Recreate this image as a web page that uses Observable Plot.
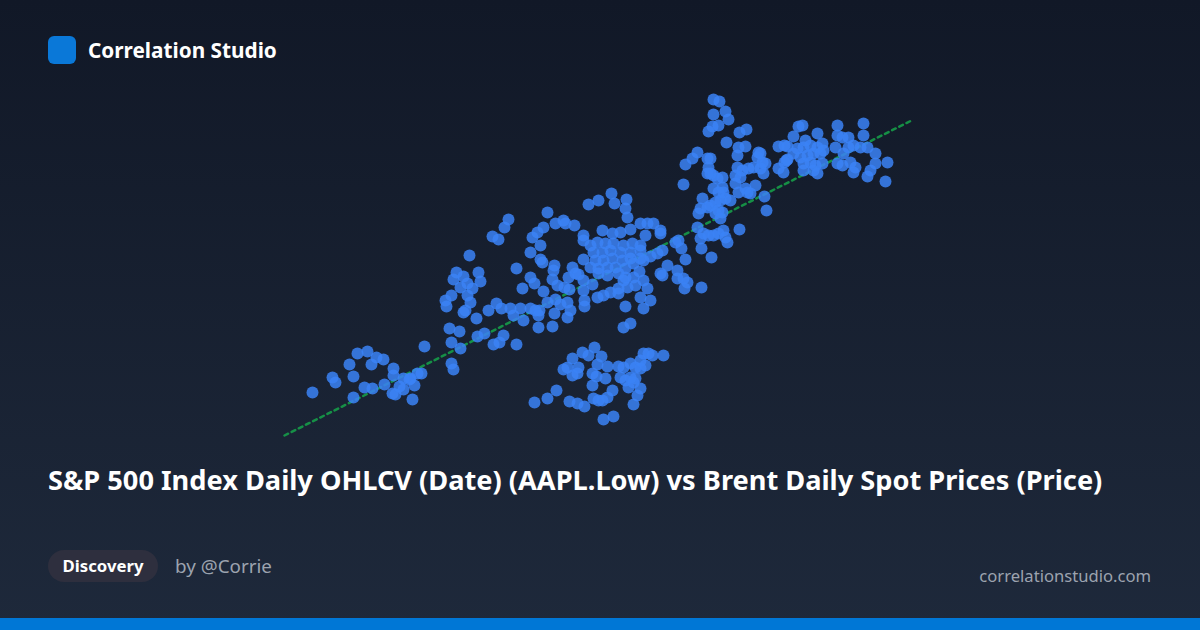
<!DOCTYPE html>
<html>
<head>
<meta charset="utf-8">
<script src="https://cdn.jsdelivr.net/npm/d3@7"></script>
<script src="https://cdn.jsdelivr.net/npm/@observablehq/plot@0.6"></script>
<style>
  html, body { margin: 0; padding: 0; }
  body { width: 1200px; height: 630px; overflow: hidden; font-family: "Noto Sans", "Open Sans", sans-serif; }
  #card { position: relative; width: 1200px; height: 630px; background: linear-gradient(180deg, #111827 0%, #1e293b 100%); overflow: hidden; }
  #logo { position: absolute; left: 48px; top: 36px; width: 28px; height: 28px; border-radius: 6px; background: #0a78d8; }
  #brand { position: absolute; left: 88px; top: 36px; line-height: 28px; font-size: 20px; font-weight: 700; color: #ffffff; white-space: nowrap; }
  #chart { position: absolute; left: 0; top: 80px; }
  #title { position: absolute; left: 48px; top: 462px; font-size: 27px; font-weight: 700; color: #ffffff; line-height: 36px; white-space: nowrap; }
  #pill { position: absolute; left: 48px; top: 550px; width: 110px; height: 32px; border-radius: 16px; background: #2e2f3e; text-align: center; }
  #pillText { color: #ffffff; font-size: 16px; font-weight: 700; line-height: 32px; white-space: nowrap; }
  #author { position: absolute; left: 175px; top: 550px; line-height: 32px; font-size: 18px; color: #9ca3af; white-space: nowrap; }
  #site { position: absolute; right: 49px; top: 560px; line-height: 32px; font-size: 16px; color: #9ca3af; white-space: nowrap; }
  #bar { position: absolute; left: 0; bottom: 0; width: 1200px; height: 12px; background: #0077d6; }
</style>
</head>
<body>
<div id="card">
  <div id="logo"></div>
  <div id="brand">Correlation Studio</div>
  <div id="chart"></div>
  <div id="title">S&amp;P 500 Index Daily OHLCV (Date) (AAPL.Low) vs Brent Daily Spot Prices (Price)</div>
  <div id="pill"><span id="pillText">Discovery</span></div>
  <div id="author">by @Corrie</div>
  <div id="site">correlationstudio.com</div>
  <div id="bar"></div>
</div>
<script>
// Values (x: AAPL.Low axis units, y: Brent price axis units, as plotted positions)
const lowerLeft = [
  [312,392],[332,377],[335,382],[349,364],[353,376],[353,397],[357,353],[367,351],[371,364],[376,357],
  [383,359],[364,387],[372,388],[384,384],[393,368],[393,375],[392,393],[395,394],[403,378],[403,389],
  [409,379],[414,385],[412,399],[417,373],[421,373],[424,346],[451,363],[453,369],[399,386],[410,378]
];
const middleLeft = [
  [449,328],[459,331],[451,342],[460,348],[469,255],[492,236],[498,239],[504,227],[508,219],[456,272],
  [453,279],[463,276],[460,287],[467,283],[472,288],[478,272],[480,281],[451,295],[445,300],[446,306],
  [467,295],[470,302],[465,310],[463,312],[476,318],[488,310],[496,303],[501,308],[510,308],[520,308],
  [513,315],[477,336],[484,333],[493,344],[499,342],[503,335],[516,344],[516,268],[522,288],[530,277],
  [534,283],[530,252],[540,245],[540,259],[532,237],[537,232],[543,227],[547,212],[555,223],[563,220],
  [565,223],[574,225],[583,235],[583,240],[588,204],[598,200],[611,193],[614,203],[626,199],[625,208],
  [627,217],[543,291],[530,308],[535,310],[539,310],[538,315],[538,327],[523,320],[547,302],[555,299],
  [560,304],[567,302],[570,310],[567,317],[554,313],[552,326],[554,265],[553,270],[572,267],[575,273],
  [578,274],[568,277],[552,279],[557,285],[564,287],[569,289],[583,290],[584,300],[584,306],[592,284],
  [542,262],[583,280]
];
const central = [
  [602,230],[612,233],[620,232],[630,229],[640,223],[647,223],[653,223],[660,230],[660,233],[645,235],
  [590,245],[597,242],[605,243],[613,243],[623,245],[632,243],[640,245],[593,252],[602,252],[610,250],
  [620,252],[630,252],[640,250],[595,260],[603,260],[612,258],[622,260],[630,258],[640,258],[590,267],
  [598,268],[607,267],[615,267],[625,268],[633,263],[643,260],[650,256],[657,253],[662,250],[598,273],
  [607,275],[618,273],[625,277],[633,277],[639,271],[583,259],[597,297],[603,295],[610,292],[618,288],
  [623,280],[618,293],[627,287],[635,285],[643,280],[647,288],[625,306],[630,323],[623,327],[640,297],
  [650,300],[643,308]
];
const centralRight = [
  [660,273],[667,265],[677,270],[678,240],[681,248],[685,259],[687,282],[684,288],[701,287],[677,278],
  [683,278],[675,242],[662,275],[697,227],[700,238],[703,233],[701,248],[711,257],[739,229],[683,184]
];
const upper = [
  [685,164],[692,158],[697,152],[707,158],[710,158],[708,167],[710,173],[713,175],[717,178],[722,177],
  [707,173],[713,188],[722,187],[718,192],[723,192],[702,198],[700,208],[698,213],[707,207],[710,205],
  [715,202],[720,200],[725,198],[730,200],[718,210],[722,212],[715,213],[720,218],[708,235],[713,235],
  [718,233],[723,230],[725,237],[727,242],[713,99],[719,101],[725,111],[728,119],[713,114],[708,131],
  [712,126],[718,125],[726,142],[739,132],[746,129],[738,147],[745,146],[737,155],[758,152],[757,157],
  [762,162],[765,163],[737,167],[742,170],[748,168],[753,167],[760,168],[763,173],[735,175],[740,177],
  [735,183],[738,192],[745,188],[747,192],[750,193],[755,185],[764,196],[766,210],[778,146],[784,145],
  [786,160],[784,162],[778,168],[783,172],[760,153]
];
const right = [
  [798,126],[802,125],[793,136],[787,146],[787,159],[797,148],[803,147],[810,145],[817,147],[822,143],
  [800,157],[807,155],[813,153],[820,153],[803,163],[810,162],[815,165],[822,163],[813,170],[803,170],
  [817,133],[823,150],[817,173],[837,125],[837,135],[842,137],[848,137],[835,147],[843,153],[837,163],
  [842,165],[850,162],[855,167],[853,172],[863,123],[863,135],[860,147],[867,147],[875,153],[875,163],
  [870,170],[867,176],[887,162],[885,181],[848,147],[853,145],[805,140],[793,153]
];
const bottom = [
  [534,402],[547,398],[556,390],[569,401],[577,403],[584,406],[572,358],[582,352],[588,355],[594,347],
  [601,356],[563,369],[567,367],[572,375],[578,367],[577,373],[597,364],[607,366],[592,373],[596,376],
  [605,378],[592,385],[618,366],[623,367],[630,363],[635,367],[640,360],[643,353],[648,353],[652,355],
  [640,368],[645,365],[663,355],[620,377],[625,380],[628,387],[633,382],[635,378],[630,377],[640,388],
  [637,395],[612,390],[607,397],[602,400],[593,398],[598,400],[633,404],[603,419],[613,416]
];
// Dashed trend line end points
const trendX = [284, 913];
const trendY = [435, 119];

const points = [...lowerLeft, ...middleLeft, ...central, ...centralRight, ...upper, ...right, ...bottom]
  .map(([x, y]) => ({x, y}));
const trend = trendX.map((x, i) => ({x, y: trendY[i]}));

const chart = Plot.plot({
  width: 1200,
  height: 380,
  margin: 0,
  style: {background: "transparent", overflow: "visible"},
  x: {domain: [0, 1200], axis: null},
  y: {domain: [80, 460], reverse: true, axis: null},
  marks: [
    Plot.line(trend, {x: "x", y: "y", stroke: "#16a34a", strokeOpacity: 0.85, strokeWidth: 2.5, strokeDasharray: "4,4"}),
    Plot.dot(points, {x: "x", y: "y", r: 6, fill: "#3b82f6", fillOpacity: 0.85, stroke: "none"})
  ]
});
document.getElementById("chart").appendChild(chart);

// Fit text widths to the reference card
function fit(id, target) {
  const el = document.getElementById(id);
  const fs = parseFloat(getComputedStyle(el).fontSize);
  const w = el.getBoundingClientRect().width;
  if (w > 0) el.style.fontSize = (fs * target / w).toFixed(2) + "px";
}
fit("title", 1055);
fit("brand", 189);
fit("pillText", 81);
fit("author", 97);
fit("site", 172);
</script>
</body>
</html>
